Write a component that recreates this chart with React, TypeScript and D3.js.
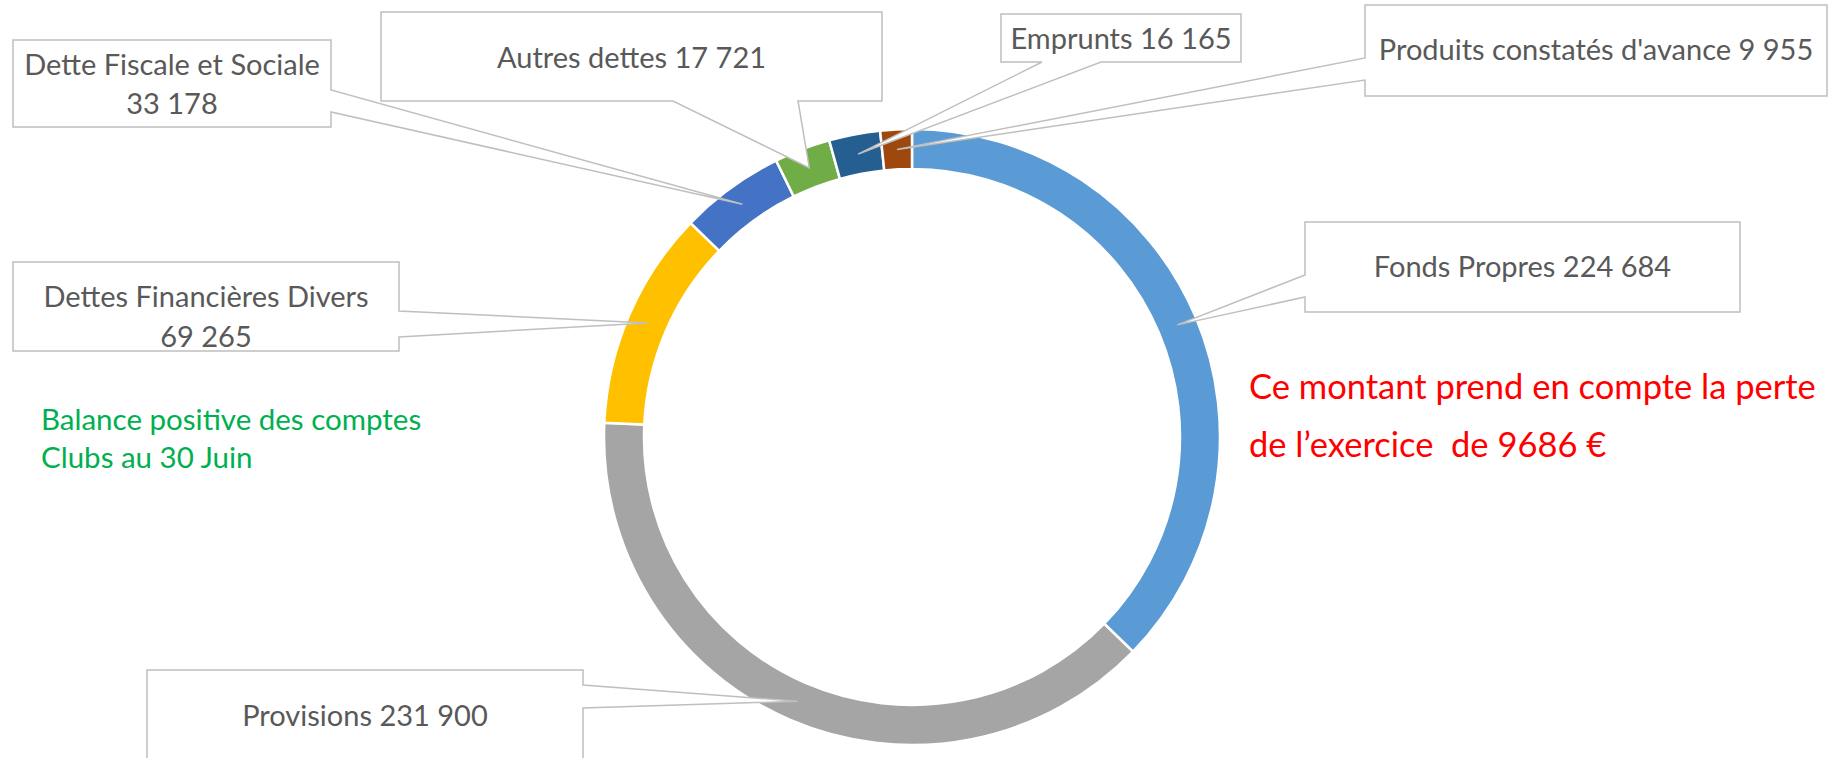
import React from "react";
import * as d3 from "d3";

const categories = [
  "Fonds Propres",
  "Provisions",
  "Dettes Financières Divers",
  "Dette Fiscale et Sociale",
  "Autres dettes",
  "Emprunts",
  "Produits constatés d'avance",
];
const values = [224684, 231900, 69265, 33178, 17721, 16165, 9955];
const colors = ["#5B9BD5", "#A5A5A5", "#FFC000", "#4472C4", "#70AD47", "#255E91", "#9E480E"];
const twoLineLabels = [false, false, true, true, false, false, false];

const noteGreen = ["Balance positive des comptes", "Clubs au 30 Juin"];
const noteRed = ["Ce montant prend en compte la perte", "de l\u2019exercice  de 9686 \u20ac"];

// callout layout (box, attachment side, base points along that side, baselines)
type Box = { x0: number; y0: number; x1: number; y1: number; side: "left" | "right" | "bottom"; a: number; b: number; base: number[] };
const layout: Box[] = [
  { x0: 1305, y0: 222, x1: 1740, y1: 312, side: "left", a: 275, b: 297, base: [277] },
  { x0: 147, y0: 670, x1: 583, y1: 762, side: "right", a: 685, b: 708, base: [726] },
  { x0: 13, y0: 262, x1: 399, y1: 351, side: "right", a: 311, b: 337, base: [307, 347] },
  { x0: 13, y0: 40, x1: 331, y1: 127, side: "right", a: 90, b: 112, base: [75, 114] },
  { x0: 381, y0: 12, x1: 882, y1: 101, side: "bottom", a: 673, b: 798, base: [68] },
  { x0: 1001, y0: 14, x1: 1241, y1: 62, side: "bottom", a: 1042, b: 1101, base: [49] },
  { x0: 1365, y0: 5, x1: 1827, y1: 96, side: "left", a: 58, b: 80, base: [60] },
];

const W = 1834;
const H = 758;
const cx = 912;
const cy = 437;
const outerR = 308;
const innerR = 268;
const FONT = "Lato, 'Open Sans', sans-serif";

function calloutPath(bx: Box, tx: number, ty: number) {
  const { x0, y0, x1, y1, side, a, b } = bx;
  const p = d3.path();
  if (side === "left") {
    p.moveTo(x0, y0); p.lineTo(x1, y0); p.lineTo(x1, y1); p.lineTo(x0, y1);
    p.lineTo(x0, b); p.lineTo(tx, ty); p.lineTo(x0, a); p.closePath();
  } else if (side === "right") {
    p.moveTo(x0, y0); p.lineTo(x1, y0); p.lineTo(x1, a); p.lineTo(tx, ty);
    p.lineTo(x1, b); p.lineTo(x1, y1); p.lineTo(x0, y1); p.closePath();
  } else {
    p.moveTo(x0, y0); p.lineTo(x1, y0); p.lineTo(x1, y1); p.lineTo(b, y1);
    p.lineTo(tx, ty); p.lineTo(a, y1); p.lineTo(x0, y1); p.closePath();
  }
  return p.toString();
}

export default function App() {
  const fmt = (v: number) => d3.format(",")(v).replace(/,/g, " ");
  const data = categories.map((c, i) => ({ name: c, value: values[i], color: colors[i], i }));
  const pie = d3.pie<any>().sort(null).value((d) => d.value).startAngle(0).endAngle(2 * Math.PI);
  const arcs = pie(data);
  const arc = d3.arc<any>().innerRadius(innerR).outerRadius(outerR);

  return (
    <svg width={W} height={H} style={{ position: "absolute", left: 0, top: 0, background: "#fff" }} fontFamily={FONT}>
      <rect x={0} y={0} width={W} height={H} fill="#fff" />
      <g transform={`translate(${cx},${cy})`}>
        {arcs.map((a, i) => (
          <path key={i} d={arc(a) as string} fill={a.data.color} stroke="#fff" strokeWidth={2.5} />
        ))}
      </g>
      {arcs.map((a, i) => {
        const [mx, my] = arc.centroid(a);
        const bx = layout[i];
        const tx = cx + mx;
        const ty = cy + my;
        const midX = (bx.x0 + bx.x1) / 2;
        const lines = twoLineLabels[i] ? [a.data.name, fmt(a.data.value)] : [`${a.data.name} ${fmt(a.data.value)}`];
        return (
          <g key={"l" + i}>
            <path d={calloutPath(bx, tx, ty)} fill="#fff" stroke="#BFBFBF" strokeWidth={1.5} strokeLinejoin="miter" />
            {lines.map((t, k) => (
              <text key={k} x={midX} y={bx.base[k]} textAnchor="middle" fontSize={29} fill="#595959">
                {t}
              </text>
            ))}
          </g>
        );
      })}
      {noteGreen.map((t, k) => (
        <text key={"g" + k} x={41} y={430 + k * 38} fontSize={29.5} fill="#00B050">
          {t}
        </text>
      ))}
      {noteRed.map((t, k) => (
        <text key={"r" + k} x={1249} y={399 + k * 58} fontSize={34.5} fill="#FF0000" style={{ whiteSpace: "pre" }}>
          {t}
        </text>
      ))}
    </svg>
  );
}
